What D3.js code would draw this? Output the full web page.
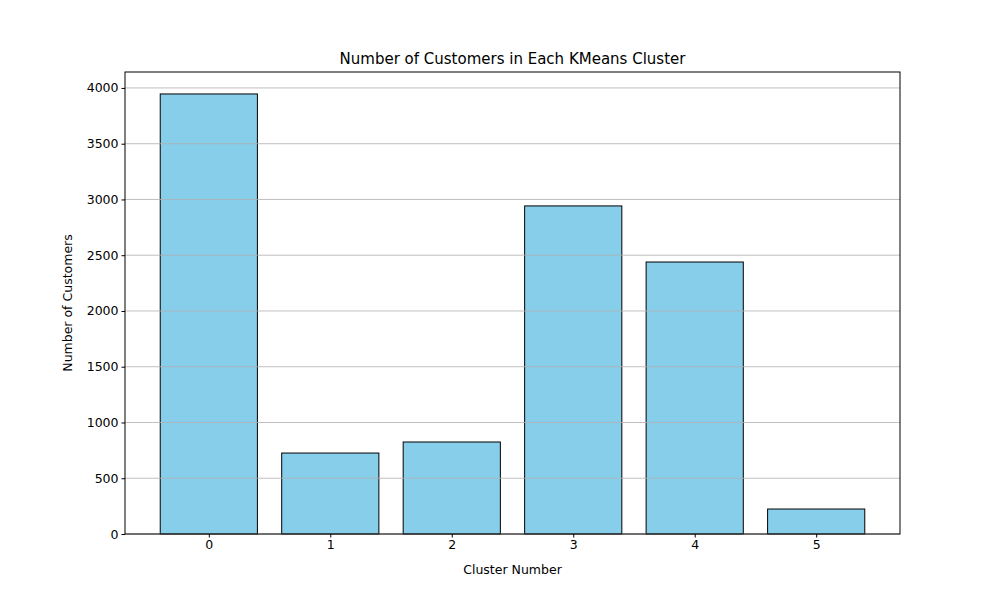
<!DOCTYPE html>
<html>
<head>
<meta charset="utf-8">
<script src="https://cdn.jsdelivr.net/npm/d3@7"></script>
<style>
body { margin: 0; background: #fff; }
text { font-family: "DejaVu Sans", sans-serif; }
</style>
</head>
<body>
<svg id="chart" width="1000" height="600"></svg>
<script>
"use strict"

// chart data
const clusters = [0, 1, 2, 3, 4, 5];
const customers = [3946, 726, 825, 2942, 2439, 224];
const yTicks = [0, 500, 1000, 1500, 2000, 2500, 3000, 3500, 4000];

const margin = {left: 125, right: 100, top: 72, bottom: 66};
const width = 1000 - margin.left - margin.right,
    height = 600 - margin.top - margin.bottom;

const svg = d3.select('#chart');
const g = svg.append('g').attr('transform', `translate(${margin.left},${margin.top})`);

const x = d3.scaleLinear().domain([-0.69, 5.69]).range([0, width]);
const y = d3.scaleLinear().domain([0, 4143]).range([height, 0]);
const bw = x(0.8) - x(0);

// bars
g.selectAll('rect.bar').data(clusters).enter().append('rect')
    .attr('class', 'bar')
    .attr('x', d => x(d - 0.4))
    .attr('width', bw)
    .attr('y', (d, i) => y(customers[i]))
    .attr('height', (d, i) => y(0) - y(customers[i]))
    .attr('fill', '#87ceeb')
    .attr('stroke', '#000')
    .attr('stroke-width', 1);

// grid lines drawn over the bars
g.selectAll('line.grid').data(yTicks).enter().append('line')
    .attr('x1', 0).attr('x2', width)
    .attr('y1', d => y(d)).attr('y2', d => y(d))
    .attr('stroke', '#b0b0b0').attr('stroke-width', 0.8);

// axes
const xAxis = g.append('g').attr('transform', `translate(0,${height})`)
    .call(d3.axisBottom(x).tickValues(clusters).tickFormat(d3.format('d')).tickSize(3.5).tickSizeOuter(0));
const yAxis = g.append('g')
    .call(d3.axisLeft(y).tickValues(yTicks).tickFormat(d3.format('d')).tickSize(3.5).tickSizeOuter(0));
[xAxis, yAxis].forEach(a => {
    a.select('.domain').remove();
    a.selectAll('text').attr('font-size', 12.5).attr('fill', '#000');
    a.selectAll('line').attr('stroke', '#000');
});

// frame
g.append('rect').attr('width', width).attr('height', height)
    .attr('fill', 'none').attr('stroke', '#000').attr('stroke-width', 1);

// labels
svg.append('text').attr('x', margin.left + width / 2).attr('y', 64)
    .attr('text-anchor', 'middle').attr('font-size', 15)
    .text('Number of Customers in Each KMeans Cluster');
svg.append('text').attr('x', margin.left + width / 2).attr('y', 574)
    .attr('text-anchor', 'middle').attr('font-size', 12.5)
    .text('Cluster Number');
svg.append('text').attr('transform', `translate(72,${margin.top + height / 2}) rotate(-90)`)
    .attr('text-anchor', 'middle').attr('font-size', 12.5)
    .text('Number of Customers');
</script>
</body>
</html>
